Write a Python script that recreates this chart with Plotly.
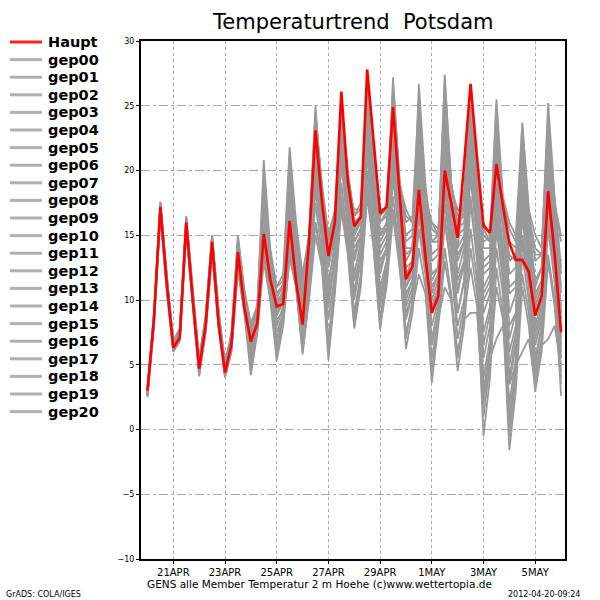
import pandas as pd
import plotly.graph_objects as go

times = pd.date_range("2012-04-20 00:00", periods=65, freq="6h")

haupt = [3.0, 8.5, 17.2, 11.2, 6.3, 7.1, 16.0, 10.0, 4.7, 8.0, 14.5, 8.2, 4.4, 6.6, 13.7, 9.4,
         6.8, 8.2, 15.1, 11.6, 9.5, 9.7, 16.1, 11.4, 8.1, 14.5, 23.1, 17.6, 13.4, 16.0, 26.1, 19.2,
         15.7, 16.4, 27.8, 22.0, 16.7, 17.2, 24.9, 18.3, 11.6, 12.6, 18.5, 13.4, 9.0, 10.3, 20.0, 17.5,
         14.8, 20.5, 26.7, 21.0, 15.7, 15.2, 20.5, 17.3, 14.4, 13.1, 13.1, 12.2, 8.8, 10.3, 18.4, 13.6,
         7.5]

gep00 = [2.8, 8.7, 17.4, 11.0, 6.5, 7.3, 15.8, 10.3, 4.9, 8.2, 14.8, 8.5, 4.6, 6.9, 14.0, 9.8,
         7.0, 8.5, 15.8, 12.0, 9.8, 10.2, 17.0, 12.3, 8.8, 14.0, 22.5, 17.0, 13.0, 15.5, 25.0, 18.8,
         15.2, 16.0, 26.5, 21.0, 16.0, 16.8, 24.0, 18.0, 12.0, 13.0, 19.5, 14.0, 9.5, 11.0, 21.0, 17.0,
         14.0, 18.5, 25.0, 19.5, 14.5, 14.8, 21.5, 16.5, 13.5, 13.0, 15.0, 12.5, 9.5, 11.0, 19.5, 14.0,
         8.5]
gep01 = [3.1, 8.9, 17.0, 11.5, 6.6, 7.5, 16.3, 10.6, 5.2, 8.6, 14.9, 9.0, 5.0, 7.2, 14.6, 10.5,
         7.8, 9.2, 18.5, 13.0, 10.5, 11.0, 20.5, 14.5, 11.0, 15.0, 24.5, 18.5, 14.5, 16.5, 24.0, 19.5,
         16.5, 17.0, 25.0, 20.0, 16.5, 17.0, 26.5, 19.0, 16.0, 16.5, 25.5, 18.5, 15.5, 15.0, 27.0, 19.0,
         16.5, 17.0, 24.0, 18.0, 15.0, 14.5, 25.0, 17.5, 15.5, 14.5, 22.0, 16.5, 14.0, 13.5, 24.5, 17.5,
         14.5]
gep02 = [2.6, 8.2, 16.8, 10.8, 6.1, 6.9, 15.4, 9.7, 4.3, 7.6, 13.8, 8.0, 4.1, 6.2, 12.5, 9.2,
         5.5, 7.8, 13.5, 10.5, 6.5, 8.5, 14.0, 11.0, 6.0, 10.5, 16.0, 13.0, 6.5, 11.0, 18.0, 14.0,
         8.0, 11.5, 19.0, 14.5, 8.5, 12.0, 17.0, 13.0, 7.0, 10.0, 15.5, 12.0, 4.5, 8.5, 14.0, 10.5,
         5.5, 9.0, 12.5, 9.5, 1.0, 5.0, 11.0, 8.5, 0.5, 4.5, 12.0, 9.0, 4.0, 7.0, 13.5, 10.0,
         4.0]
gep03 = [2.9, 8.4, 17.3, 11.3, 6.4, 7.2, 16.2, 10.2, 4.5, 7.9, 14.2, 8.6, 4.3, 6.5, 13.2, 9.5,
         6.0, 8.0, 17.0, 12.5, 8.0, 9.5, 19.0, 13.5, 9.5, 13.5, 21.0, 16.0, 11.0, 14.5, 23.5, 18.0,
         13.0, 15.0, 24.0, 19.0, 15.0, 16.0, 22.0, 16.5, 11.0, 12.0, 18.0, 14.5, 11.5, 12.5, 22.5, 17.0,
         13.5, 14.5, 21.0, 16.5, 9.0, 10.5, 18.5, 14.0, 8.0, 9.0, 17.0, 13.5, 10.0, 11.5, 21.0, 15.0,
         9.5]
gep04 = [3.0, 8.6, 17.5, 11.6, 6.8, 7.6, 15.6, 10.1, 5.0, 8.3, 14.6, 8.8, 4.8, 7.0, 14.2, 10.0,
         7.5, 8.8, 16.5, 12.5, 10.0, 10.5, 18.0, 13.0, 10.5, 14.5, 25.0, 18.0, 14.0, 16.0, 24.5, 19.0,
         15.0, 16.5, 23.5, 18.5, 14.0, 15.0, 27.2, 19.5, 14.5, 15.0, 21.0, 16.0, 12.0, 12.5, 19.0, 15.0,
         10.5, 13.0, 20.0, 15.5, 10.0, 11.0, 16.0, 13.0, 6.0, 8.0, 19.0, 14.0, 8.0, 10.0, 20.0, 14.5,
         7.0]
gep05 = [2.7, 8.3, 17.1, 11.1, 6.2, 7.0, 15.9, 9.9, 4.6, 8.1, 14.4, 8.3, 4.5, 6.7, 13.8, 9.6,
         6.5, 8.3, 14.5, 11.0, 8.5, 9.0, 15.0, 11.5, 7.5, 12.0, 19.5, 15.0, 9.5, 13.0, 21.5, 16.0,
         10.5, 14.0, 22.5, 17.0, 12.0, 14.0, 21.0, 15.5, 9.5, 11.0, 16.5, 12.5, 7.0, 9.5, 17.5, 13.5,
         9.0, 11.5, 19.5, 14.5, 6.5, 9.0, 18.0, 13.0, 3.5, 6.5, 16.5, 12.0, 5.0, 8.0, 17.5, 12.5,
         5.5]
gep06 = [3.2, 9.0, 17.6, 11.8, 6.9, 7.8, 16.5, 10.8, 5.5, 8.8, 15.0, 9.3, 5.2, 7.5, 15.0, 10.8,
         8.2, 9.6, 19.5, 13.5, 11.0, 11.5, 21.0, 15.0, 12.0, 15.0, 23.0, 17.5, 15.0, 16.5, 23.0, 18.5,
         17.0, 17.0, 22.0, 18.0, 15.5, 15.5, 25.5, 18.5, 13.0, 14.0, 26.7, 19.0, 14.5, 15.0, 24.5, 18.0,
         15.0, 15.5, 22.0, 17.5, 12.5, 13.0, 23.0, 17.0, 12.0, 12.5, 23.5, 17.0, 13.0, 13.5, 25.2, 18.0,
         12.5]
gep07 = [2.5, 8.0, 16.6, 10.6, 6.0, 6.8, 15.2, 9.6, 4.1, 7.5, 13.6, 7.9, 4.0, 6.0, 12.2, 9.0,
         4.2, 7.5, 13.0, 10.0, 5.3, 8.0, 13.2, 11.0, 5.8, 10.0, 15.0, 12.5, 5.4, 10.5, 17.0, 13.5,
         7.8, 11.0, 18.0, 14.0, 7.7, 11.5, 19.5, 14.5, 10.5, 11.5, 20.0, 15.0, 10.0, 11.5, 16.5, 12.5,
         7.0, 9.5, 15.5, 11.5, 4.0, 7.0, 14.0, 10.5, 2.0, 5.5, 14.5, 11.0, 6.5, 8.5, 15.5, 11.5,
         2.6]
gep08 = [2.8, 8.5, 17.2, 11.2, 6.3, 7.4, 16.1, 10.4, 4.8, 8.4, 14.7, 8.7, 4.7, 6.8, 13.5, 9.9,
         7.2, 8.6, 16.0, 12.0, 9.0, 10.0, 18.5, 13.0, 9.0, 13.0, 22.0, 16.5, 12.5, 15.0, 24.5, 18.5,
         14.5, 15.5, 25.5, 19.5, 13.5, 14.5, 23.5, 17.5, 12.5, 13.0, 23.0, 17.5, 13.0, 13.5, 25.5, 19.0,
         16.0, 16.5, 23.0, 17.5, 13.0, 13.5, 20.0, 15.5, 10.5, 11.0, 20.5, 15.5, 11.5, 12.5, 22.5, 16.5,
         11.0]
gep09 = [2.9, 8.8, 17.0, 11.4, 6.7, 7.5, 15.7, 10.5, 5.1, 8.5, 14.3, 8.4, 4.2, 6.4, 13.0, 9.3,
         6.2, 8.0, 15.0, 11.0, 7.5, 9.0, 16.5, 12.5, 8.5, 12.5, 20.0, 15.5, 10.0, 13.5, 22.0, 17.0,
         12.0, 14.5, 21.0, 16.5, 11.0, 13.0, 20.0, 15.0, 8.5, 10.5, 19.0, 14.0, 8.0, 10.0, 18.5, 14.0,
         11.0, 12.5, 18.0, 13.5, 3.0, 6.5, 16.5, 12.0, 1.0, 5.0, 15.0, 11.5, 5.5, 8.0, 17.0, 12.0,
         6.0]
gep10 = [3.1, 8.7, 17.3, 11.7, 6.5, 7.1, 16.4, 10.7, 5.4, 8.7, 14.9, 9.1, 5.0, 7.3, 14.8, 10.6,
         8.0, 9.5, 20.8, 14.0, 11.0, 12.0, 21.8, 16.0, 12.0, 14.5, 24.0, 19.0, 15.0, 17.0, 25.0, 20.0,
         16.5, 17.5, 24.5, 21.0, 17.0, 17.0, 25.0, 19.0, 17.0, 16.0, 24.0, 18.0, 16.0, 15.0, 26.0, 18.5,
         17.0, 17.0, 25.0, 19.0, 16.0, 15.0, 25.5, 18.0, 16.0, 15.0, 23.7, 17.0, 15.0, 14.0, 23.5, 17.5,
         15.0]
gep11 = [2.6, 8.1, 16.9, 10.9, 6.2, 7.0, 15.5, 9.8, 4.4, 7.7, 14.0, 8.1, 4.3, 6.3, 12.8, 9.1,
         5.0, 7.7, 14.0, 10.5, 6.0, 8.5, 14.5, 11.5, 6.5, 11.0, 17.5, 13.5, 7.0, 11.5, 19.0, 14.5,
         9.0, 12.0, 20.0, 15.0, 10.0, 12.5, 18.0, 13.5, 6.2, 9.0, 14.0, 11.0, 3.6, 8.0, 13.0, 10.0,
         4.5, 8.0, 14.0, 10.5, -0.5, 4.0, 12.5, 9.0, -1.6, 3.0, 11.0, 8.0, 2.9, 6.0, 13.0, 9.5,
         3.5]
gep12 = [3.0, 8.4, 17.4, 11.4, 6.6, 7.7, 16.0, 10.3, 4.9, 8.0, 14.6, 8.9, 4.9, 7.1, 14.4, 10.2,
         7.4, 9.0, 17.5, 12.8, 9.5, 10.8, 19.5, 14.0, 10.0, 14.0, 23.5, 18.0, 14.0, 15.5, 22.5, 17.5,
         14.0, 15.0, 23.0, 17.5, 12.5, 14.0, 22.5, 17.0, 10.0, 11.5, 21.5, 16.0, 10.5, 12.0, 23.0, 17.5,
         12.0, 14.0, 22.5, 17.0, 11.0, 12.0, 22.0, 16.0, 9.0, 10.5, 21.5, 15.0, 9.0, 10.5, 21.0, 15.5,
         9.0]
gep13 = [2.7, 8.6, 17.0, 11.0, 6.4, 7.3, 15.8, 10.0, 4.7, 8.2, 14.4, 8.5, 4.5, 6.7, 13.4, 9.6,
         6.6, 8.2, 15.5, 11.5, 8.8, 9.8, 17.5, 12.5, 9.0, 12.5, 21.0, 16.0, 11.5, 14.0, 23.0, 17.5,
         13.5, 15.0, 23.5, 18.0, 14.5, 15.5, 21.5, 16.5, 12.0, 12.5, 17.0, 13.5, 9.5, 10.5, 20.0, 15.0,
         9.0, 11.5, 21.5, 16.0, 7.5, 9.5, 19.0, 14.0, 5.0, 7.5, 18.0, 13.5, 7.5, 9.5, 19.0, 13.0,
         8.0]
gep14 = [3.0, 8.9, 17.5, 11.5, 6.6, 7.6, 16.3, 10.5, 5.3, 8.6, 15.0, 9.2, 4.6, 6.8, 13.9, 10.3,
         7.6, 8.9, 18.0, 13.0, 10.2, 11.0, 20.0, 14.5, 11.5, 14.8, 23.5, 18.5, 14.5, 16.5, 24.0, 19.0,
         16.0, 16.5, 24.5, 19.5, 16.0, 16.5, 26.0, 19.0, 15.0, 15.5, 25.0, 18.0, 13.5, 14.0, 27.4, 19.0,
         15.5, 16.0, 24.5, 18.5, 14.0, 14.0, 24.0, 17.5, 13.0, 13.5, 22.5, 16.5, 11.0, 12.5, 24.0, 17.0,
         12.0]
gep15 = [2.8, 8.3, 17.1, 11.2, 6.3, 7.0, 15.6, 10.1, 4.5, 7.8, 14.1, 8.2, 4.4, 6.5, 13.3, 9.4,
         5.8, 7.9, 14.5, 11.0, 7.0, 8.8, 16.0, 12.0, 7.0, 11.5, 18.5, 14.5, 8.5, 12.0, 20.5, 15.5,
         10.0, 13.0, 21.5, 16.0, 9.5, 12.5, 23.0, 16.5, 11.0, 12.5, 22.0, 16.5, 12.0, 12.5, 21.5, 16.0,
         11.5, 13.0, 20.5, 15.0, 5.5, 8.0, 17.0, 12.5, 4.0, 7.0, 17.5, 13.0, 7.0, 9.0, 18.0, 13.0,
         7.5]
gep16 = [3.1, 8.8, 17.4, 11.6, 6.8, 7.7, 16.2, 10.6, 5.0, 8.5, 14.8, 9.0, 4.8, 7.0, 14.4, 10.2,
         7.8, 9.3, 18.8, 13.2, 10.5, 11.2, 20.8, 15.0, 11.5, 14.5, 24.5, 18.5, 15.0, 16.5, 24.5, 19.0,
         15.5, 16.5, 25.0, 20.0, 17.0, 17.0, 24.0, 18.5, 16.5, 16.0, 20.0, 17.0, 16.0, 15.5, 22.0, 17.0,
         17.0, 16.5, 21.0, 16.5, 15.5, 14.5, 19.0, 16.0, 14.5, 14.0, 18.0, 15.0, 13.5, 13.5, 20.0, 15.0,
         13.0]
gep17 = [2.6, 8.2, 16.7, 10.7, 6.0, 6.9, 15.3, 9.7, 4.2, 7.6, 13.7, 8.0, 4.1, 6.1, 12.4, 9.1,
         4.5, 7.6, 13.2, 10.2, 5.8, 8.2, 13.5, 11.0, 6.2, 10.2, 16.0, 12.8, 6.0, 10.8, 17.5, 13.8,
         8.5, 11.5, 18.5, 14.0, 8.0, 11.0, 16.5, 12.5, 7.5, 9.5, 12.0, 10.5, 5.5, 8.5, 11.0, 10.0,
         6.0, 8.5, 9.0, 9.0, 2.0, 5.5, 7.0, 8.0, 3.5, 5.0, 6.0, 7.0, 3.5, 6.5, 7.0, 8.0,
         5.0]
gep18 = [2.9, 8.5, 17.3, 11.3, 6.5, 7.4, 16.1, 10.2, 4.8, 8.2, 14.6, 8.6, 4.6, 6.9, 13.7, 9.8,
         7.1, 8.5, 16.2, 12.2, 9.3, 10.3, 18.2, 13.3, 9.8, 13.5, 22.5, 17.0, 13.0, 15.0, 23.0, 18.0,
         14.5, 15.5, 22.0, 17.5, 13.0, 14.0, 24.0, 18.0, 13.5, 14.0, 22.5, 17.0, 11.0, 12.0, 23.5, 17.5,
         13.0, 14.5, 23.5, 17.5, 12.0, 12.5, 21.0, 16.0, 11.0, 11.5, 20.0, 15.0, 10.5, 11.5, 22.0, 16.0,
         10.5]
gep19 = [2.7, 8.4, 16.9, 11.0, 6.3, 7.2, 15.9, 10.0, 4.6, 8.0, 14.3, 8.4, 4.4, 6.6, 13.1, 9.5,
         6.4, 8.1, 15.2, 11.3, 8.2, 9.3, 16.8, 12.2, 8.2, 12.0, 19.0, 15.0, 10.5, 13.0, 21.0, 16.5,
         11.5, 13.5, 22.0, 16.5, 10.5, 12.5, 20.5, 15.0, 9.0, 10.5, 18.0, 13.5, 6.5, 9.0, 16.0, 12.5,
         8.0, 10.0, 17.5, 13.0, 2.5, 6.0, 15.5, 11.5, -0.5, 4.0, 13.5, 10.0, 4.5, 7.0, 16.0, 11.5,
         4.5]
gep20 = [3.0, 8.6, 17.2, 11.4, 6.5, 7.5, 16.2, 10.4, 5.1, 8.4, 14.7, 8.8, 4.7, 7.0, 14.1, 10.0,
         7.3, 8.8, 17.2, 12.6, 9.7, 10.6, 19.0, 13.8, 10.5, 14.0, 22.8, 17.5, 13.5, 15.5, 23.8, 18.5,
         15.0, 16.0, 24.0, 19.0, 15.0, 15.5, 23.0, 17.5, 14.0, 14.0, 22.0, 17.5, 14.5, 14.5, 24.0, 18.0,
         14.0, 15.0, 22.5, 17.0, 10.5, 11.5, 22.5, 16.5, 7.0, 9.0, 21.0, 15.5, 9.5, 11.0, 22.0, 16.0,
         6.5]

members = {
    "gep00": gep00, "gep01": gep01, "gep02": gep02, "gep03": gep03, "gep04": gep04,
    "gep05": gep05, "gep06": gep06, "gep07": gep07, "gep08": gep08, "gep09": gep09,
    "gep10": gep10, "gep11": gep11, "gep12": gep12, "gep13": gep13, "gep14": gep14,
    "gep15": gep15, "gep16": gep16, "gep17": gep17, "gep18": gep18, "gep19": gep19,
    "gep20": gep20,
}

xtick_dates = ["2012-04-21", "2012-04-23", "2012-04-25", "2012-04-27",
               "2012-04-29", "2012-05-01", "2012-05-03", "2012-05-05"]
xtick_labels = ["21APR", "23APR", "25APR", "27APR", "29APR", "1MAY", "3MAY", "5MAY"]
ytick_vals = [-10, -5, 0, 5, 10, 15, 20, 25, 30]

FONT = "DejaVu Sans"
W, H = 600, 600
L, R, T, B = 141, 35, 41, 41
PW, PH = W - L - R, H - T - B


def px_x(p):
    return (p - L) / PW


def px_y(p):
    return (H - B - p) / PH


fig = go.Figure()
for name, vals in members.items():
    fig.add_trace(go.Scatter(
        x=times, y=vals, mode="lines", name=name, showlegend=False,
        line=dict(color="#999999", width=1.8),
    ))
fig.add_trace(go.Scatter(
    x=times, y=haupt, mode="lines", name="Haupt", showlegend=False,
    line=dict(color="#ff0000", width=2.6),
))

# GrADS-style legend block on the left
legend_names = ["Haupt"] + list(members.keys())
legend_colors = ["#ff2020"] + ["#b0b0b0"] * len(members)
shapes = []
annotations = []
for k, (nm, col) in enumerate(zip(legend_names, legend_colors)):
    yp = 42 + 17.6 * k
    shapes.append(dict(type="line", xref="paper", yref="paper",
                       x0=px_x(10), x1=px_x(42), y0=px_y(yp), y1=px_y(yp),
                       line=dict(color=col, width=3)))
    annotations.append(dict(text=nm, xref="paper", yref="paper",
                            x=px_x(46), y=px_y(yp), xanchor="left", yanchor="middle",
                            showarrow=False,
                            font=dict(family=FONT, size=14.5, color="black", weight="bold")))

annotations += [
    dict(text="GENS alle Member Temperatur 2 m Hoehe (c)www.wettertopia.de",
         xref="paper", yref="paper", x=px_x(319), y=px_y(584), xanchor="center", yanchor="middle",
         showarrow=False, font=dict(family=FONT, size=10.5)),
    dict(text="GrADS: COLA/IGES", xref="paper", yref="paper",
         x=px_x(4), y=px_y(594), xanchor="left", yanchor="middle",
         showarrow=False, font=dict(family=FONT, size=8)),
    dict(text="2012-04-20-09:24", xref="paper", yref="paper",
         x=px_x(582), y=px_y(594), xanchor="right", yanchor="middle",
         showarrow=False, font=dict(family=FONT, size=8)),
    dict(text="Temperaturtrend  Potsdam", xref="paper", yref="paper",
         x=px_x(352), y=px_y(22), xanchor="center", yanchor="middle",
         showarrow=False, font=dict(family=FONT, size=21, color="black")),
]

fig.update_layout(
    width=W, height=H,
    margin=dict(l=L, r=R, t=T, b=B, autoexpand=False),
    paper_bgcolor="white", plot_bgcolor="white",
    font=dict(family=FONT, color="black"),
    showlegend=False,
    hovermode=False,
    shapes=shapes,
    annotations=annotations,
    xaxis=dict(
        range=["2012-04-19 18:00", "2012-05-06 03:40"],
        tickvals=xtick_dates, ticktext=xtick_labels,
        showgrid=True, gridcolor="#a8a8a8", griddash="dot", gridwidth=1,
        showline=True, linecolor="black", linewidth=2, mirror=True,
        ticks="outside", ticklen=3, tickcolor="black",
        tickfont=dict(family=FONT, size=10), zeroline=False,
    ),
    yaxis=dict(
        range=[-10, 30], tickvals=ytick_vals,
        showgrid=True, gridcolor="#a8a8a8", griddash="dashdot", gridwidth=1,
        showline=True, linecolor="black", linewidth=2, mirror=True,
        ticks="outside", ticklen=3, tickcolor="black",
        tickfont=dict(family=FONT, size=8), zeroline=False,
    ),
)

fig.write_html("out.html",
               config={"displayModeBar": False},
               post_script="document.body.style.margin='0px';document.body.style.padding='0px';")
